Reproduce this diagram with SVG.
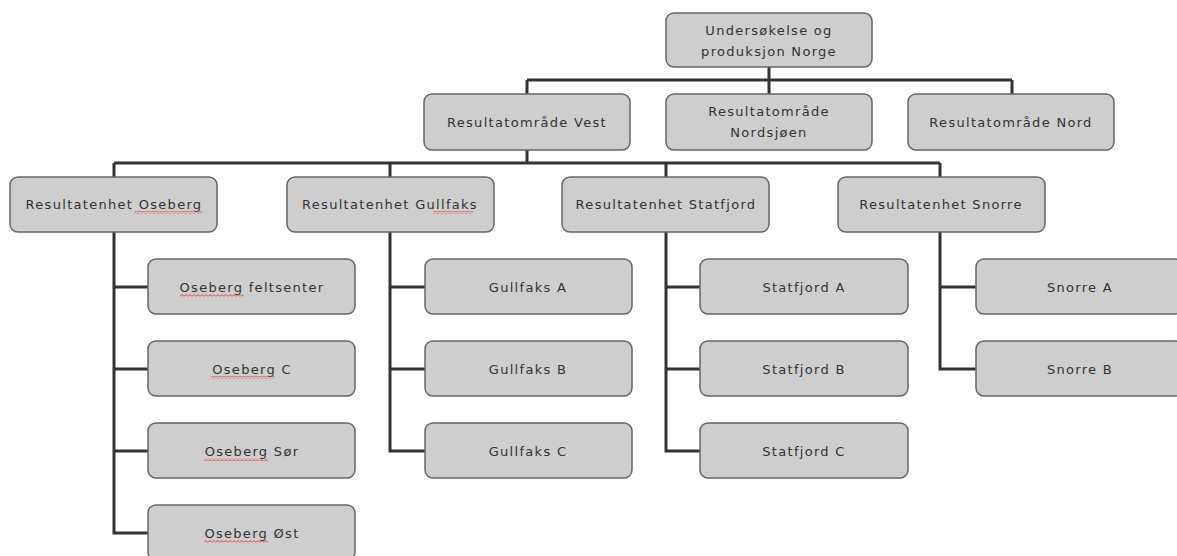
<svg xmlns="http://www.w3.org/2000/svg" width="1177" height="556" viewBox="0 0 1177 556">
<defs>
<pattern id="sq" width="4" height="3" patternUnits="userSpaceOnUse">
<polyline points="0,2.5 2,0.5 4,2.5" fill="none" stroke="#e8383d" stroke-width="1"/>
</pattern>
</defs>
<style>
.n rect{fill:#cecece;stroke:#666;stroke-width:1.5}
.n text{font-family:"DejaVu Sans",Verdana,sans-serif;font-size:13px;fill:#333;text-anchor:middle;letter-spacing:1.3px}
#connectors path{fill:none;stroke:#333;stroke-width:3}
.n .sq{fill:url(#sq);stroke:none}
</style>
<rect width="1177" height="556" fill="#fff"/>
<g id="connectors">
<path d="M769 67V80M527 80H1012M527 80V94M769 80V94M1012 80V94"/>
<path d="M527 150V163M114 163H940M114 163V177M390 163V177M666 163V177M940 163V177"/>
<path d="M114 232V533H148M114 287H148M114 369H148M114 451H148"/>
<path d="M390 232V451H425M390 287H425M390 369H425"/>
<path d="M666 232V451H700M666 287H700M666 369H700"/>
<path d="M940 232V369H976M940 287H976"/>
</g>
<g id="n0" class="n"><rect x="666" y="13" width="206" height="54" rx="8"/><text x="769" y="35">Undersøkelse og</text><text x="769" y="56">produksjon Norge</text></g>
<g id="n1" class="n"><rect x="424" y="94" width="206" height="56" rx="8"/><text x="527" y="127">Resultatområde Vest</text></g>
<g id="n2" class="n"><rect x="666" y="94" width="206" height="56" rx="8"/><text x="769" y="116">Resultatområde</text><text x="769" y="137">Nordsjøen</text></g>
<g id="n3" class="n"><rect x="908" y="94" width="206" height="56" rx="8"/><text x="1011" y="127">Resultatområde Nord</text></g>
<g id="n4" class="n"><rect x="10" y="177" width="207" height="55" rx="8"/><text x="114" y="209">Resultatenhet Oseberg</text><rect class="sq" x="134" y="211" width="68" height="3"/></g>
<g id="n5" class="n"><rect x="287" y="177" width="207" height="55" rx="8"/><text x="390" y="209">Resultatenhet Gullfaks</text><rect class="sq" x="433" y="211" width="40" height="3"/></g>
<g id="n6" class="n"><rect x="562" y="177" width="207" height="55" rx="8"/><text x="666" y="209">Resultatenhet Statfjord</text></g>
<g id="n7" class="n"><rect x="838" y="177" width="207" height="55" rx="8"/><text x="941" y="209">Resultatenhet Snorre</text></g>
<g id="n8" class="n"><rect x="148" y="259" width="207" height="55" rx="8"/><text x="252" y="292">Oseberg feltsenter</text><rect class="sq" x="180" y="294" width="64" height="3"/></g>
<g id="n9" class="n"><rect x="148" y="341" width="207" height="55" rx="8"/><text x="252" y="374">Oseberg C</text><rect class="sq" x="211" y="376" width="64" height="3"/></g>
<g id="n10" class="n"><rect x="148" y="423" width="207" height="55" rx="8"/><text x="252" y="456">Oseberg Sør</text><rect class="sq" x="204" y="458" width="64" height="3"/></g>
<g id="n11" class="n"><rect x="148" y="505" width="207" height="55" rx="8"/><text x="252" y="538">Oseberg Øst</text><rect class="sq" x="204" y="540" width="64" height="3"/></g>
<g id="n12" class="n"><rect x="425" y="259" width="207" height="55" rx="8"/><text x="528" y="292">Gullfaks A</text></g>
<g id="n13" class="n"><rect x="425" y="341" width="207" height="55" rx="8"/><text x="528" y="374">Gullfaks B</text></g>
<g id="n14" class="n"><rect x="425" y="423" width="207" height="55" rx="8"/><text x="528" y="456">Gullfaks C</text></g>
<g id="n15" class="n"><rect x="700" y="259" width="208" height="55" rx="8"/><text x="804" y="292">Statfjord A</text></g>
<g id="n16" class="n"><rect x="700" y="341" width="208" height="55" rx="8"/><text x="804" y="374">Statfjord B</text></g>
<g id="n17" class="n"><rect x="700" y="423" width="208" height="55" rx="8"/><text x="804" y="456">Statfjord C</text></g>
<g id="n18" class="n"><rect x="976" y="259" width="207" height="55" rx="8"/><text x="1080" y="292">Snorre A</text></g>
<g id="n19" class="n"><rect x="976" y="341" width="207" height="55" rx="8"/><text x="1080" y="374">Snorre B</text></g>
</svg>
